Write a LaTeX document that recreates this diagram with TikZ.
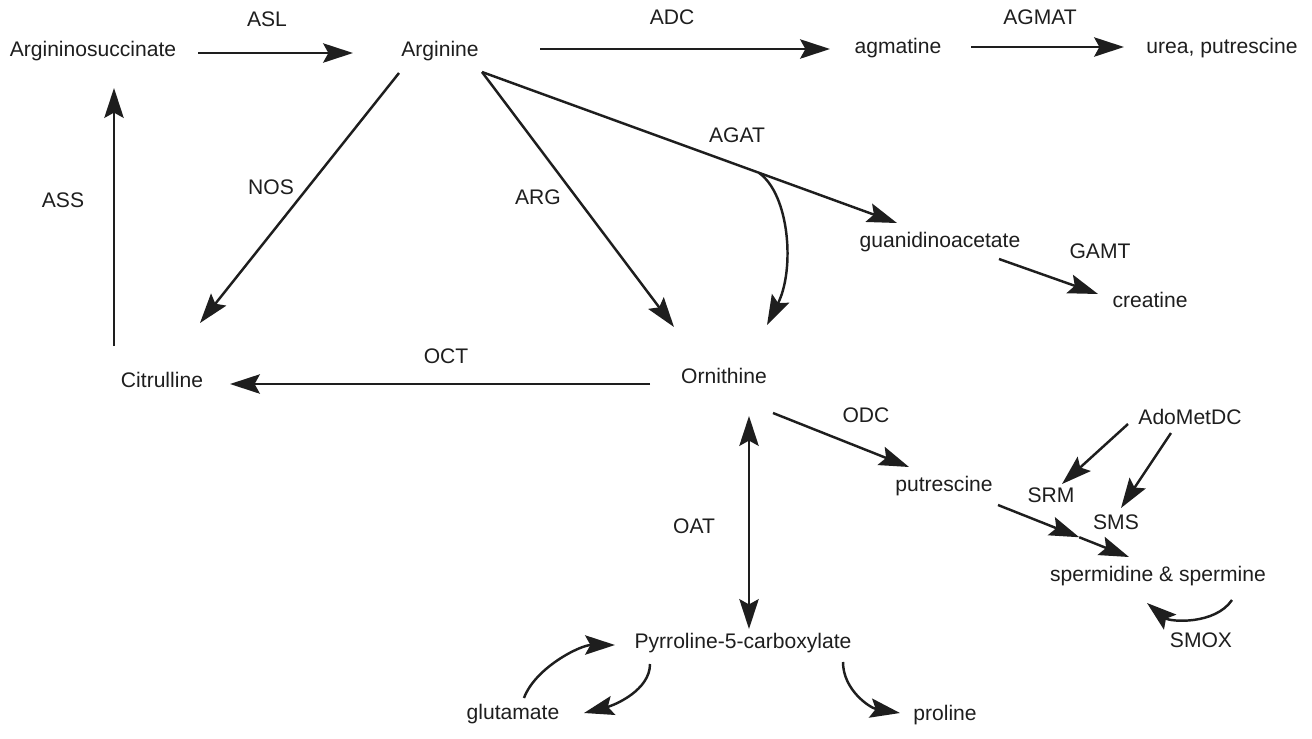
\documentclass[tikz,border=0pt]{standalone}
\usepackage{fontspec}
\setmainfont{Liberation Sans}
\usepackage{tikz}
\usetikzlibrary{arrows.meta,calc}
\definecolor{inkdark}{HTML}{1E1E1E}
\tikzset{metab/.style={inner sep=0pt,text height=0.75em,text depth=0.2em,
  text=inkdark,font=\fontsize{12}{14}\selectfont},
  enz/.style={metab},
  rxn/.style={-{Stealth[length=17pt,width=11pt,inset=3pt]},line width=1.4pt,draw=inkdark},
  rxnboth/.style={rxn,{Stealth[length=17pt,width=11pt,inset=3pt]}-{Stealth[length=17pt,width=11pt,inset=3pt]}}}

\begin{document}
\begin{tikzpicture}[x={(0.02cm,0)},y={(0,-0.02cm)}]
 \useasboundingbox (0,0) rectangle (1312,738);
 % metabolites
 \node[metab] (asuc) at (93,52)   {Argininosuccinate};
 \node[metab] (argi) at (440,52)  {Arginine};
 \node[metab] (agm)  at (898,49)  {agmatine};
 \node[metab] (urea) at (1222,49) {urea, putrescine};
 \node[metab] (citr) at (162,383) {Citrulline};
 \node[metab] (orni) at (724,379) {Ornithine};
 \node[metab] (gaa)  at (940,243) {guanidinoacetate};
 \node[metab] (crea) at (1150,303) {creatine};
 \node[metab] (putr) at (944,487) {putrescine};
 \node[metab] (ado)  at (1190,420) {AdoMetDC};
 \node[metab] (spd)  at (1158,577) {spermidine \& spermine};
 \node[metab] (pcx)  at (743,644) {Pyrroline-5-carboxylate};
 \node[metab] (glu)  at (513,715) {glutamate};
 \node[metab] (pro)  at (945,716) {proline};
 % enzymes
 \node[enz] (asl)   at (267,22)   {ASL};
 \node[enz] (adc)   at (672,20)   {ADC};
 \node[enz] (agmat) at (1040,20)  {AGMAT};
 \node[enz] (ass)   at (63,203)   {ASS};
 \node[enz] (nos)   at (271,190)  {NOS};
 \node[enz] (arg)   at (538,200)  {ARG};
 \node[enz] (agat)  at (737,138)  {AGAT};
 \node[enz] (gamt)  at (1100,254) {GAMT};
 \node[enz] (oct)   at (446,359)  {OCT};
 \node[enz] (odc)   at (866,418)  {ODC};
 \node[enz] (srm)   at (1051,498) {SRM};
 \node[enz] (sms)   at (1116,525) {SMS};
 \node[enz] (oat)   at (694,529)  {OAT};
 \node[enz] (smox)  at (1201,643) {SMOX};
 % urea cycle
 \draw[rxn] ($(asuc)+(105,1)$) -- ($(argi)+(-87,1)$);
 \draw[rxn] ($(argi)+(100,-3)$) -- ($(agm)+(-68,0)$);
 \draw[rxn] ($(agm)+(73,-2)$) -- ($(urea)+(-98,-2)$);
 \draw[rxn] ($(citr)+(-48,-37)$) -- ($(asuc)+(21,36)$);
 \draw[rxn] ($(argi)+(-41,21)$) -- ($(citr)+(38,-60)$);
 \draw[rxn] ($(argi)+(42,20)$) -- ($(orni)+(-50,-52)$);
 \draw[rxn] ($(orni)+(-74,5)$) -- ($(citr)+(68,1)$);
 % AGAT with branch to ornithine
 \coordinate (agatin) at ($(argi)+(42,20)$);
 \coordinate (agatout) at ($(gaa)+(-43,-20)$);
 \coordinate (agatfork) at ($(agatin)!0.667!(agatout)$);
 \draw[rxn] (agatin) -- (agatout);
 \draw[rxn] (agatfork) .. controls +(31,22) and +(28,-55) .. ($(orni)+(43,-54)$);
 \draw[rxn] ($(gaa)+(59,16)$) -- ($(crea)+(-52,-9)$);
 % polyamines
 \draw[rxn] ($(orni)+(49,34)$) -- ($(putr)+(-35,-20)$);
 \draw[rxn] ($(ado)+(-62,4)$) -- ($(srm)+(11,-14)$);
 \draw[rxn] ($(ado)+(-19,13)$) -- ($(sms)+(5,-17)$);
 \coordinate (putout) at ($(putr)+(54,18)$);
 \coordinate (spdin) at ($(spd)+(-29,-20)$);
 \coordinate (putmid) at ($(putout)!0.62!(spdin)$);
 \draw[rxn] (putout) -- (putmid);
 \draw[rxn] (putmid) -- (spdin);
 \draw[rxn] ($(spd)+(74,23)$) .. controls +(-17,25) and +(23,19) .. ($(spd)+(-11,26)$);
 % proline branch
 \draw[rxnboth] ($(orni)+(25,37)$) -- ($(pcx)+(6,-15)$);
 \draw[rxn] ($(glu)+(11,-17)$) .. controls +(11,-30) and +(-35,0) .. ($(pcx)+(-128,1)$);
 \draw[rxn] ($(pcx)+(-93,20)$) .. controls +(0,26) and +(31,-8) .. ($(glu)+(71,-2)$);
 \draw[rxn] ($(pcx)+(100,18)$) .. controls +(0,28) and +(-30,-5) .. ($(pro)+(-45,-3)$);
\end{tikzpicture}
\end{document}
